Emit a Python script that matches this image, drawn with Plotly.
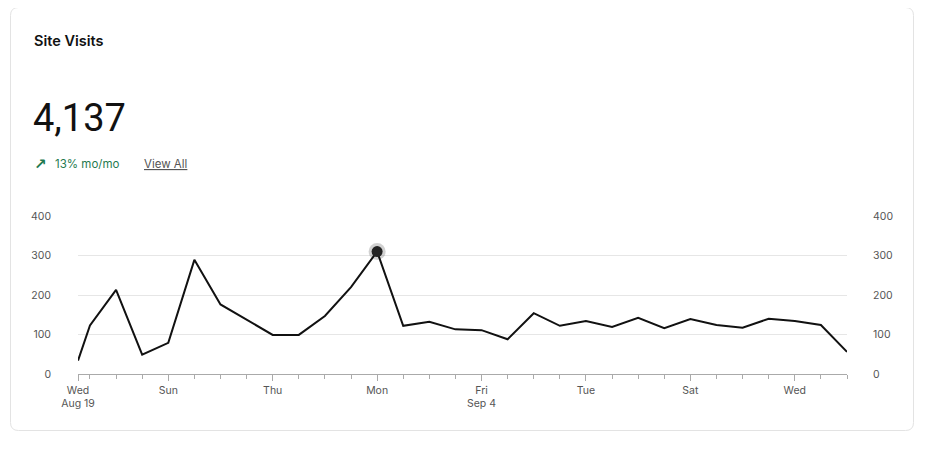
import plotly.graph_objects as go

dates = ["2020-08-19 13:00"] + [f"2020-08-{d:02d}" for d in range(20, 32)] + [f"2020-09-{d:02d}" for d in range(1, 19)]
visits = [34, 123, 213, 49, 79, 289, 176, 138, 99, 99, 147, 220, 310, 122, 132, 113,
          111, 88, 154, 122, 134, 119, 142, 116, 139, 124, 117, 140, 134, 124, 56]
tick_vals = ["2020-08-19 13:00", "2020-08-23", "2020-08-27", "2020-08-31", "2020-09-04",
             "2020-09-08", "2020-09-12", "2020-09-16"]
tick_text = ["Wed<br>Aug 19", "Sun", "Thu", "Mon", "Fri<br>Sep 4", "Tue", "Sat", "Wed"]
y_ticks = [0, 100, 200, 300, 400]
peak_date, peak_val = "2020-08-31", 310

OFF = 8  # page body margin
W, H = 927 - OFF, 452 - OFF
L, R, T, B = 78 - OFF, 847 - OFF, 216 - OFF, 374 - OFF
def px(x): return (x - OFF - L) / (R - L)
def py(y): return (B - (y - OFF)) / (B - T)

fig = go.Figure()
fig.add_trace(go.Scatter(x=dates, y=visits, mode="lines", line=dict(color="#111111", width=2),
                         hoverinfo="skip", showlegend=False))
fig.add_trace(go.Scatter(x=[peak_date], y=[peak_val], mode="markers",
                         marker=dict(size=17, color="rgba(0,0,0,0.18)"), showlegend=False, hoverinfo="skip"))
fig.add_trace(go.Scatter(x=[peak_date], y=[peak_val], mode="markers",
                         marker=dict(size=11, color="#222222"), showlegend=False, hoverinfo="skip"))
fig.add_trace(go.Scatter(x=[dates[0]], y=[0], yaxis="y2", mode="markers", marker=dict(opacity=0),
                         showlegend=False, hoverinfo="skip"))

# card
x0, y0, x1, y1, r = px(10.5), py(7.5), px(913.5), py(430.5), 8
rx, ry = r / (R - L), r / (B - T)
path = (f"M {x0+rx},{y0} L {x1-rx},{y0} Q {x1},{y0} {x1},{y0-ry} L {x1},{y1+ry} Q {x1},{y1} {x1-rx},{y1} "
        f"L {x0+rx},{y1} Q {x0},{y1} {x0},{y1+ry} L {x0},{y0-ry} Q {x0},{y0} {x0+rx},{y0} Z")
fig.add_shape(type="path", path=path, xref="paper", yref="paper", line=dict(color="#e3e3e3", width=1),
              layer="below")

def ann(x, y, text, size, color, family="Inter", **kw):
    fig.add_annotation(x=px(x), y=py(y), xref="paper", yref="paper", text=text, showarrow=False,
                       xanchor="left", yanchor="middle", font=dict(size=size, color=color, family=family), **kw)

ann(32, 41, "Site Visits", 14.5, "#111111", family="Inter SemiBold, Inter")
ann(31, 118, "4,137", 38, "#111111", family="Roboto")
ann(32, 164, "<b>↗</b>", 15, "#1f7a4f", family="DejaVu Sans")
ann(53, 164, "13% mo/mo", 11.5, "#1f7a4f")
ann(142, 164, "<u>View All</u>", 11.5, "#555555")

axis_font = dict(size=10.5, color="#555555", family="Inter")
fig.update_layout(
    width=W, height=H, margin=dict(l=L, r=W - R, t=T, b=H - B),
    paper_bgcolor="white", plot_bgcolor="white",
    xaxis=dict(type="date", range=[dates[0], dates[-1]], tickvals=tick_vals, ticktext=tick_text,
               showgrid=False, showline=True, linecolor="#aaaaaa", ticks="outside", ticklen=6,
               tickcolor="#aaaaaa", tickfont=axis_font, zeroline=False,
               minor=dict(dtick=86400000, ticks="outside", ticklen=4, tickcolor="#aaaaaa", tick0="2020-08-20")),
    yaxis=dict(range=[0, 400], tickvals=y_ticks, showgrid=True, gridcolor="#e6e6e6", zeroline=False,
               tickfont=axis_font, ticklabelstandoff=26),
    yaxis2=dict(range=[0, 400], tickvals=y_ticks, overlaying="y", side="right", showgrid=False,
                zeroline=False, tickfont=axis_font, ticklabelstandoff=25),
)
fig.write_html("out.html")
